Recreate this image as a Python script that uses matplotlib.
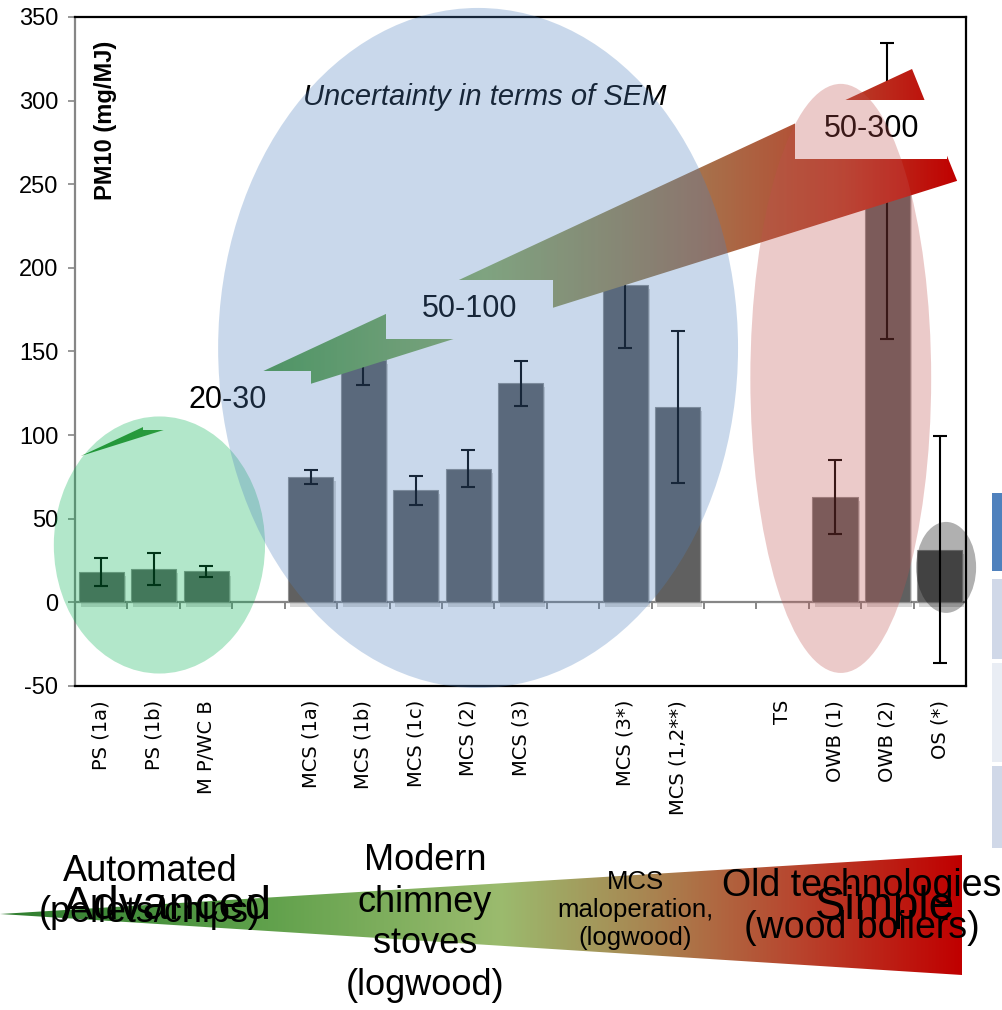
import numpy as np
import matplotlib
matplotlib.use('Agg')
import matplotlib.pyplot as plt
import matplotlib.patheffects as pe
from matplotlib.patches import Ellipse, Polygon, Rectangle
from matplotlib.colors import LinearSegmentedColormap

# PM10 emission factors (mg/MJ) with SEM, empty slots are gaps between groups
categories = ['PS (1a)', 'PS (1b)', 'M P/WC B', '',
              'MCS (1a)', 'MCS (1b)', 'MCS (1c)', 'MCS (2)', 'MCS (3)', '',
              'MCS (3*)', 'MCS (1,2**)', '',
              'TS', 'OWB (1)', 'OWB (2)', 'OS (*)']
pm10 = [18, 20, 18.5, None, 75, 145, 67, 80, 131, None, 190, 117, None, 0, 63, 246, 31.5]
sem = [8.5, 9.5, 3.5, None, 4, 15, 8.5, 11, 13.5, None, 38, 45.5, None, 0, 22, 88.5, 68]
yticks = [-50, 0, 50, 100, 150, 200, 250, 300, 350]

ranges = ['20-30', '50-100', '50-300']
groups = ['Automated\n(pellets/chips)', 'Modern\nchimney\nstoves\n(logwood)',
          'MCS\nmaloperation,\n(logwood)', 'Old technologies\n(wood boilers)']


def gradient_fill(ax, verts, stops, zorder):
    xs = [v[0] for v in verts]
    ys = [v[1] for v in verts]
    cmap = LinearSegmentedColormap.from_list('grad', stops)
    grad = np.linspace(0, 1, 512).reshape(1, -1)
    im = ax.imshow(grad, cmap=cmap, extent=(min(xs), max(xs), min(ys), max(ys)),
                   aspect='auto', origin='lower', zorder=zorder, interpolation='bilinear')
    poly = Polygon(verts, closed=True, facecolor='none', edgecolor='none')
    ax.add_patch(poly)
    im.set_clip_path(poly)
    return im


fig = plt.figure(figsize=(10.02, 10.10), dpi=100)

# decoration layer in pixel units (bottom wedge, cut table at right)
deco = fig.add_axes([0, 0, 1, 1], zorder=-1)
deco.set_xlim(0, 1002)
deco.set_ylim(1010, 0)
deco.axis('off')

ax = fig.add_axes([0.0749, 0.3208, 0.8892, 0.6624])
x = np.arange(len(categories))

bx = [i for i in x if pm10[i] is not None]
bh = [pm10[i] for i in bx]
bars = ax.bar(bx, bh, width=0.86, color='#606060', edgecolor='#909090', linewidth=0.8, zorder=2)
for b in bars:
    b.set_path_effects([pe.SimplePatchShadow(offset=(1.5, -3), alpha=0.18), pe.Normal()])

ex = [i for i in x if sem[i]]
ax.errorbar(ex, [pm10[i] for i in ex], yerr=[sem[i] for i in ex], fmt='none',
            ecolor='black', elinewidth=1.5, capsize=5, capthick=1.5, zorder=2.5)

ax.set_xlim(-0.5, len(categories) - 0.5)
ax.set_ylim(-50, 350)

# category axis crossing at zero
ax.axhline(0, color='#868686', lw=1.6, zorder=1.5)
ax.vlines(np.arange(len(categories) + 1) - 0.5, -4.2, 0, color='#868686', lw=1.4, zorder=1.5)

for s in ['top', 'right', 'bottom']:
    ax.spines[s].set_color('black')
    ax.spines[s].set_linewidth(1.6)
ax.spines['left'].set_color('#868686')
ax.spines['left'].set_linewidth(1.6)

ax.set_xticks(x)
ax.set_xticklabels(categories, rotation=90, fontsize=14, family='DejaVu Sans')
ax.tick_params(axis='x', length=0, pad=10)
ax.set_yticks(yticks)
ax.set_yticklabels([str(v) for v in yticks], fontsize=17, family='Liberation Sans')
ax.tick_params(axis='y', length=5, width=1.2, color='#868686', pad=7)

ax.text(0.034, 0.846, 'PM10 (mg/MJ)', transform=ax.transAxes, rotation=90,
        ha='center', va='center', fontsize=17, fontweight='bold', family='Liberation Sans')

# trend arrow, partly hidden by the white range boxes
arrow_stops = [(0.0, '#2E8B2E'), (0.23, '#55A045'), (0.46, '#95B367'),
               (0.70, '#A6744D'), (0.87, '#B8432D'), (1.0, '#C00000')]
gradient_fill(ax, [(-0.39, 87.5), (15.47, 318.9), (16.33, 252.0)], arrow_stops, 3)

boxes = [(0.80, 103.1, 3.21), (5.43, 157.5, 3.19), (13.24, 265.2, 2.90)]
for (bx0, by0, bw), lab in zip(boxes, ranges):
    ax.add_patch(Rectangle((bx0, by0), bw, 35.3, facecolor='white', edgecolor='none',
                           zorder=4, clip_on=False))
    ax.text(bx0 + bw / 2, by0 + 17.6, lab, ha='center', va='center', fontsize=22,
            family='Liberation Sans', zorder=5)

ax.text(7.32, 302, 'Uncertainty in terms of SEM', ha='center', va='center', fontsize=21,
        style='italic', family='Liberation Sans', zorder=5)

# group ellipses
ellipses = [((1.11, 34.3), 4.03, 153.7, '#00B050', 0.3),
            ((7.19, 152.1), 9.92, 406.6, '#4F81BD', 0.3),
            ((14.11, 133.9), 3.45, 352.2, '#C0504D', 0.3),
            ((16.12, 20.9), 1.145, 54.4, 'black', 0.31)]
for c, w, h, col, a in ellipses:
    ax.add_patch(Ellipse(c, w, h, facecolor=col, alpha=a, edgecolor='none',
                         zorder=6, clip_on=False))

# bottom wedge Advanced -> Simple
wedge_stops = [(0.0, '#2E7D2E'), (0.25, '#5A9E48'), (0.52, '#9BBB6E'),
               (0.68, '#A98350'), (0.83, '#B8452E'), (1.0, '#C00000')]
gradient_fill(deco, [(0, 914), (962, 855), (962, 975)], wedge_stops, 1)

deco.text(150, 892, groups[0], ha='center', va='center', fontsize=26,
          family='Liberation Sans', linespacing=1.25, zorder=3)
deco.text(167, 907, 'Advanced', ha='center', va='center', fontsize=34,
          family='Liberation Sans', zorder=3)
deco.text(425, 923, groups[1], ha='center', va='center', fontsize=26,
          family='Liberation Sans', linespacing=1.25, zorder=3)
deco.text(635, 910, groups[2], ha='center', va='center', fontsize=18.5,
          family='Liberation Sans', linespacing=1.2, zorder=3)
deco.text(862, 907, groups[3], ha='center', va='center', fontsize=27,
          family='Liberation Sans', linespacing=1.25, zorder=3)
deco.text(885, 907, 'Simple', ha='center', va='center', fontsize=33,
          family='Liberation Sans', zorder=3)

# cut-off table at the right edge
for y0, h, col in [(493, 78, '#4F81BD'), (579, 80, '#D0D8E8'),
                   (663, 99, '#E9EDF4'), (766, 82, '#D0D8E8')]:
    deco.add_patch(Rectangle((992, y0), 20, h, facecolor=col, edgecolor='none', zorder=1))

fig.savefig('out.png', dpi=100)
